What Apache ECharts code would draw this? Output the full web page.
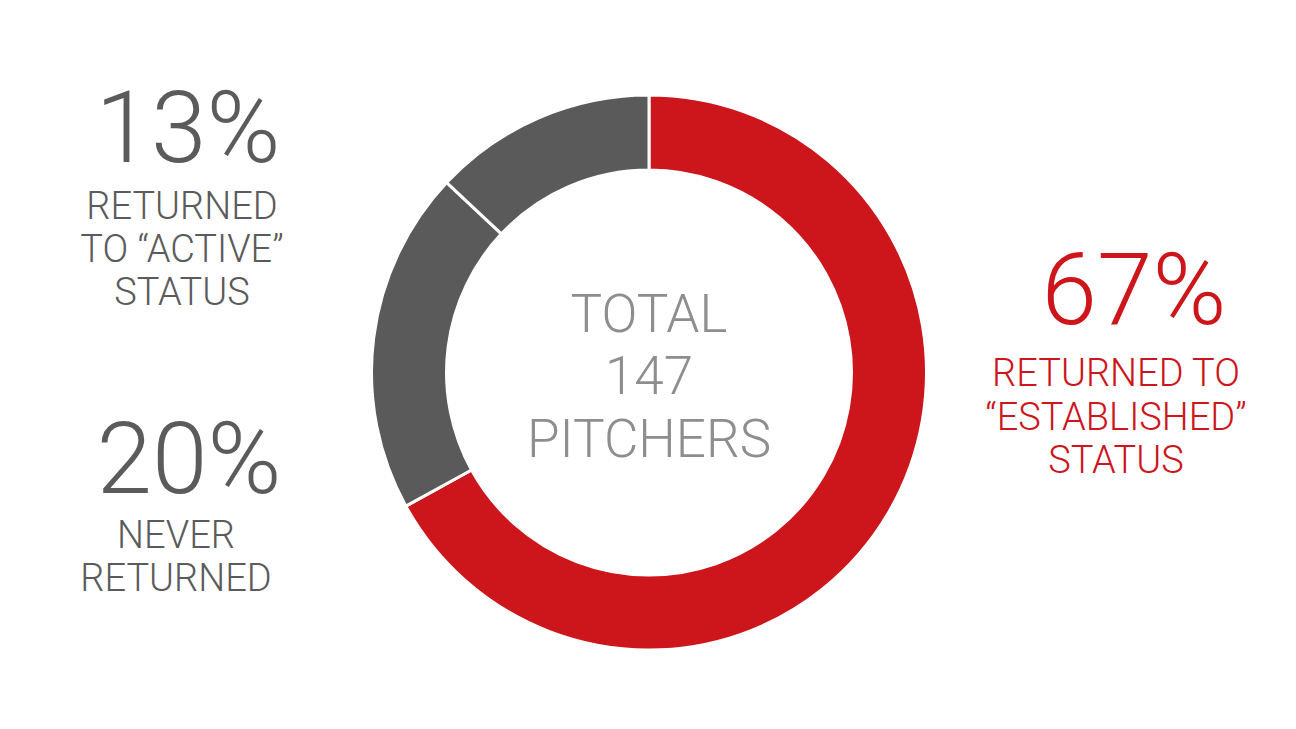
<!DOCTYPE html>
<html>
<head>
<meta charset="utf-8">
<script src="https://cdn.jsdelivr.net/npm/echarts@6/dist/echarts.min.js"></script>
<style>
html,body{margin:0;padding:0;background:#fff;}
#chart{width:1296px;height:729px;}
</style>
</head>
<body>
<div id="chart"></div>
<script>
// Data
const categories = ['RETURNED TO “ESTABLISHED” STATUS', 'NEVER RETURNED', 'RETURNED TO “ACTIVE” STATUS'];
const values = [67, 20, 13];
const colors = ['#CD151C', '#5A5A5A', '#5A5A5A'];
const labelLines = [
  ['RETURNED TO', '“ESTABLISHED”', 'STATUS'],
  ['NEVER', 'RETURNED'],
  ['RETURNED', 'TO “ACTIVE”', 'STATUS']
];
const centerLines = ['TOTAL', '147', 'PITCHERS'];

const chart = echarts.init(document.getElementById('chart'), null, {renderer: 'svg'});
const FONT = 'Roboto, "Liberation Sans", sans-serif';

const groupLayout = [
  {x: 1116, numX: 1134, numY: 289, lineY: [373, 417, 460], color: '#CD151C'},
  {x: 176, numX: 189, numY: 458, lineY: [535, 578], color: '#5B5B5B'},
  {x: 182, numX: 188, numY: 127, lineY: [206, 249, 292], color: '#5B5B5B'}
];

const graphics = [];
values.forEach((v, i) => {
  const g = groupLayout[i];
  graphics.push({
    type: 'text', x: g.numX, y: g.numY,
    style: {text: v + '%', fill: g.color, font: '300 100px ' + FONT, lineHeight: 76, textAlign: 'center', textVerticalAlign: 'middle'}
  });
  labelLines[i].forEach((t, j) => {
    graphics.push({
      type: 'text', x: g.x, y: g.lineY[j],
      style: {text: t, fill: g.color, font: '300 38px ' + FONT, lineHeight: 32, textAlign: 'center', textVerticalAlign: 'middle'}
    });
  });
});
const centerY = [314, 376, 439];
centerLines.forEach((t, j) => {
  graphics.push({
    type: 'text', x: 649, y: centerY[j],
    style: {text: t, fill: '#8E8E8E', font: '300 53px ' + FONT, lineHeight: 44, textAlign: 'center', textVerticalAlign: 'middle'}
  });
});

chart.setOption({
  animation: false,
  backgroundColor: '#ffffff',
  series: [{
    type: 'pie',
    center: [649, 372.5],
    radius: [202.5, 277.5],
    startAngle: 90,
    clockwise: true,
    label: {show: false},
    labelLine: {show: false},
    emphasis: {disabled: true},
    itemStyle: {borderColor: '#ffffff', borderWidth: 3},
    data: values.map((v, i) => ({name: categories[i], value: v, itemStyle: {color: colors[i]}}))
  }],
  graphic: graphics
});
</script>
</body>
</html>
